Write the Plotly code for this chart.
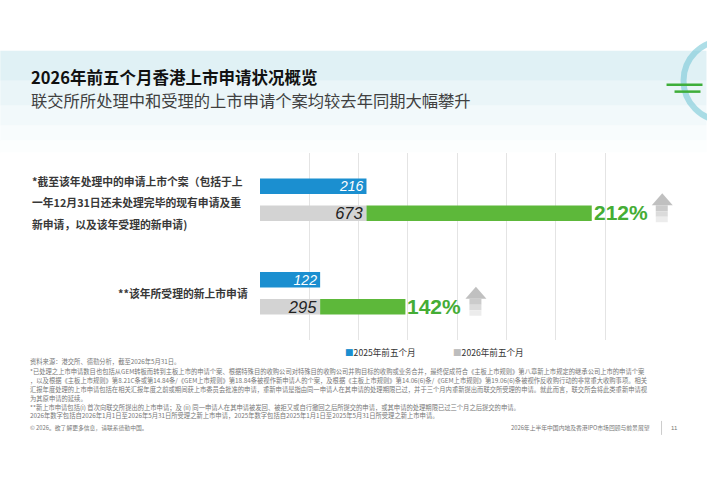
import plotly.graph_objects as go

# ---------------- data ----------------
category_lines = [
    ["*截至该年处理中的申请上市个案（包括于上",
     "一年12月31日还未处理完毕的现有申请及重",
     "新申请，以及该年受理的新申请)"],
    ["**该年所受理的新上市申请"],
]
categories = ["".join(lines) for lines in category_lines]
series_names = ["2025年前五个月", "2026年前五个月"]
values_2025 = [216, 122]
values_2026 = [673, 295]

title = "2026年前五个月香港上市申请状况概览"
subtitle = "联交所所处理中和受理的上市申请个案均较去年同期大幅攀升"
footnotes = [
    "资料来源：港交所、德勤分析，截至2026年5月31日。",
    "*已处理之上市申请数目也包括从GEM转板而转到主板上市的申请个案、根据特殊目的收购公司对特殊目的收购公司并购目标的收购或业务合并，最终促成符合《主板上市规则》第八章新上市规定的继承公司上市的申请个案",
    "，以及根据《主板上市规则》第8.21C条或第14.84条/《GEM上市规则》第18.84条被视作新申请人的个案，及根据《主板上市规则》第14.06(6)条/《GEM上市规则》第19.06(6)条被视作反收购行动的非常重大收购事项。相关",
    "汇报年度处理的上市申请包括在相关汇报年度之前或期间获上市委员会批准的申请，重新申请是指由同一申请人在其申请的处理期限已过，并于三个月内重新提出而联交所受理的申请。就此而言，联交所会将此类重新申请视",
    "为其原申请的延续。",
    "**新上市申请包括(i) 首次向联交所提出的上市申请；及 (ii) 同一申请人在其申请被发回、被拒又或自行撤回之后所提交的申请，或其申请的处理期限已过三个月之后提交的申请。",
    "2026年数字包括自2026年1月1日至2026年5月31日所受理之新上市申请，2025年数字包括自2025年1月1日至2025年5月31日所受理之新上市申请。",
]
footer_left = "© 2026。欲了解更多信息，请联系德勤中国。"
footer_right = "2026年上半年中国内地及香港IPO市场回顾与前景展望"
page_number = "11"

increase = [b - a for a, b in zip(values_2025, values_2026)]
growth_pct = [round((b - a) / a * 100) for a, b in zip(values_2025, values_2026)]

# ---------------- style ----------------
FIG_W, FIG_H = 707, 500
L, T = 260, 152.5
X_MAX = 850
PX_PER_UNIT = 0.4935
W = X_MAX * PX_PER_UNIT
H = 187.4
R = FIG_W - L - W
B = FIG_H - T - H

BLUE = "#1b8fd0"
GRAY = "#d3d3d3"
GREEN = "#5db83a"
PCT_GREEN = "#45ad35"
CJK = "Noto Sans CJK SC"
LAT = "Liberation Sans"


def xp(px):
    return (px - L) / W


def yp(py):
    return 1 - (py - T) / H


fig = go.Figure()

fig.add_trace(go.Bar(
    y=categories, x=values_2025, orientation="h", name=series_names[0],
    offsetgroup="a", marker=dict(color=BLUE, line=dict(width=0)),
    text=[str(v) for v in values_2025], textposition="inside",
    insidetextanchor="end", constraintext="none",
    textfont=dict(family=LAT, size=14, color="white", style="italic"),
    hoverinfo="skip", showlegend=False,
))
fig.add_trace(go.Bar(
    y=categories, x=values_2025, orientation="h", name=series_names[1],
    offsetgroup="b", marker=dict(color=GRAY, line=dict(width=0)),
    text=[str(v) for v in values_2026], textposition="inside",
    insidetextanchor="end", constraintext="none",
    textfont=dict(family=LAT, size=16.5, color="#222222", style="italic"),
    hoverinfo="skip", showlegend=False,
))
fig.add_trace(go.Bar(
    y=categories, x=increase, base=values_2025, orientation="h",
    name="增幅", offsetgroup="b", marker=dict(color=GREEN, line=dict(width=0)),
    hoverinfo="skip", showlegend=False,
))

annotations = []
shapes = []

# header band (fading light blue)
band_cols = ["rgba(214,236,242,0.75)", "rgba(220,239,244,0.6)", "rgba(226,242,246,0.45)",
             "rgba(232,245,248,0.3)", "rgba(240,248,250,0.2)"]
band_edges = [50, 80, 105, 125, 140, 152]
for i, col in enumerate(band_cols):
    shapes.append(dict(type="rect", xref="paper", yref="paper", layer="below",
                       x0=xp(0), x1=xp(FIG_W), y0=yp(band_edges[i]), y1=yp(band_edges[i + 1]),
                       fillcolor=col, line=dict(width=0)))

# decorative arc and green lines (top right)
shapes.append(dict(type="circle", xref="paper", yref="paper", layer="below",
                   x0=xp(684), x1=xp(764), y0=yp(40), y1=yp(120),
                   line=dict(color="rgba(120,200,215,0.6)", width=6)))
shapes.append(dict(type="line", xref="paper", yref="paper",
                   x0=xp(667), x1=xp(703), y0=yp(84), y1=yp(84),
                   line=dict(color="#3fae3a", width=2.5)))
shapes.append(dict(type="line", xref="paper", yref="paper",
                   x0=xp(675), x1=xp(701), y0=yp(91), y1=yp(91),
                   line=dict(color="#3fae3a", width=2.5)))

# title / subtitle
annotations.append(dict(text=f"<b>{title}</b>", xref="paper", yref="paper",
                        x=xp(29), y=yp(76), xanchor="left", yanchor="middle", showarrow=False,
                        font=dict(family=CJK, size=16.5, color="#111111")))
annotations.append(dict(text=subtitle, xref="paper", yref="paper",
                        x=xp(29), y=yp(99.5), xanchor="left", yanchor="middle", showarrow=False,
                        font=dict(family=CJK, size=16.3, color="#404040")))

# category labels
LINE_GAP = 21.5
for cat, lines in zip(categories, category_lines):
    n = len(lines)
    for k, line in enumerate(lines):
        shift = ((n - 1) / 2 - k) * LINE_GAP - (2.5 if n > 1 else 0)
        annotations.append(dict(
            text=f"<b>{line}</b>", xref="paper", yref="y", y=cat, yshift=shift,
            x=xp(30) if n > 1 else xp(250), xanchor="left" if n > 1 else "right",
            yanchor="middle", showarrow=False,
            font=dict(family=CJK, size=10.8, color="#383838")))

# growth percentages and arrows
BAR_OFF = 13.5  # px: centre of 2026 bar below category centre
for cat, tot, pct in zip(categories, values_2026, growth_pct):
    annotations.append(dict(
        text=f"<b>{pct}%</b>", xref="x", yref="y", x=tot, y=cat,
        xanchor="left", yanchor="middle", xshift=0, yshift=-BAR_OFF + 0.5, showarrow=False,
        font=dict(family=LAT, size=21, color=PCT_GREEN)))
    top = -BAR_OFF + 20
    neck = top - 12
    bot = -BAR_OFF - 9
    pieces = [
        (f"M 60,{neck} L 70.5,{top} L 81,{neck} Z", "#c0c0c0"),
        (f"M 64,{neck} L 76,{neck} L 76,{neck-6} L 64,{neck-6} Z", "#cbcbcb"),
        (f"M 64,{neck-6} L 76,{neck-6} L 76,{neck-11.5} L 64,{neck-11.5} Z", "#dbdbdb"),
        (f"M 64,{neck-11.5} L 76,{neck-11.5} L 76,{bot} L 64,{bot} Z", "#ececec"),
    ]
    for path, col in pieces:
        shapes.append(dict(type="path", xref="x", yref="y", xsizemode="pixel", ysizemode="pixel",
                           xanchor=tot, yanchor=cat, path=path, fillcolor=col,
                           line=dict(width=0), layer="above"))

# legend (drawn as text)
legend_pos = [343, 451]
legend_cols = [BLUE, "#bdbdbd"]
for name, px, col in zip(series_names, legend_pos, legend_cols):
    annotations.append(dict(
        text=f'<span style="color:{col}">■</span>{name}', xref="paper", yref="paper",
        x=xp(px), y=yp(352), xanchor="left", yanchor="middle", showarrow=False,
        font=dict(family=CJK, size=8.6, color="#333333")))

# footnotes
FN_Y = [361.5, 371, 380.3, 389.6, 398.6, 407.6, 415.6]
for txt, fy in zip(footnotes, FN_Y):
    annotations.append(dict(
        text=txt, xref="paper", yref="paper", x=xp(28), y=yp(fy),
        xanchor="left", yanchor="middle", showarrow=False,
        font=dict(family=CJK, size=6.3, color="#777777")))

# footer
annotations.append(dict(text=footer_left, xref="paper", yref="paper", x=xp(28), y=yp(428),
                        xanchor="left", yanchor="middle", showarrow=False,
                        font=dict(family=CJK, size=5.8, color="#777777")))
annotations.append(dict(text=footer_right, xref="paper", yref="paper", x=xp(652), y=yp(428),
                        xanchor="right", yanchor="middle", showarrow=False,
                        font=dict(family=CJK, size=5.8, color="#777777")))
annotations.append(dict(text=page_number, xref="paper", yref="paper", x=xp(675), y=yp(428),
                        xanchor="center", yanchor="middle", showarrow=False,
                        font=dict(family=LAT, size=6, color="#777777")))
shapes.append(dict(type="line", xref="paper", yref="paper",
                   x0=xp(662), x1=xp(662), y0=yp(421), y1=yp(435),
                   line=dict(color="#cccccc", width=1)))

fig.update_layout(
    width=FIG_W, height=FIG_H,
    margin=dict(l=L, r=R, t=T, b=B, pad=0),
    barmode="group", bargap=0.424, bargroupgap=0.43,
    paper_bgcolor="white", plot_bgcolor="rgba(0,0,0,0)",
    showlegend=False,
    annotations=annotations, shapes=shapes,
)
fig.update_xaxes(range=[0, X_MAX], tickvals=list(range(100, 800, 100)),
                 showticklabels=False, showgrid=True, gridcolor="#e4e4e4", gridwidth=1,
                 zeroline=False, showline=False, ticks="", fixedrange=True)
fig.update_yaxes(categoryorder="array", categoryarray=categories, range=[1.5, -0.5],
                 showticklabels=False, showgrid=False, zeroline=False, showline=False,
                 ticks="", fixedrange=True)

fig.write_html("out.html")
